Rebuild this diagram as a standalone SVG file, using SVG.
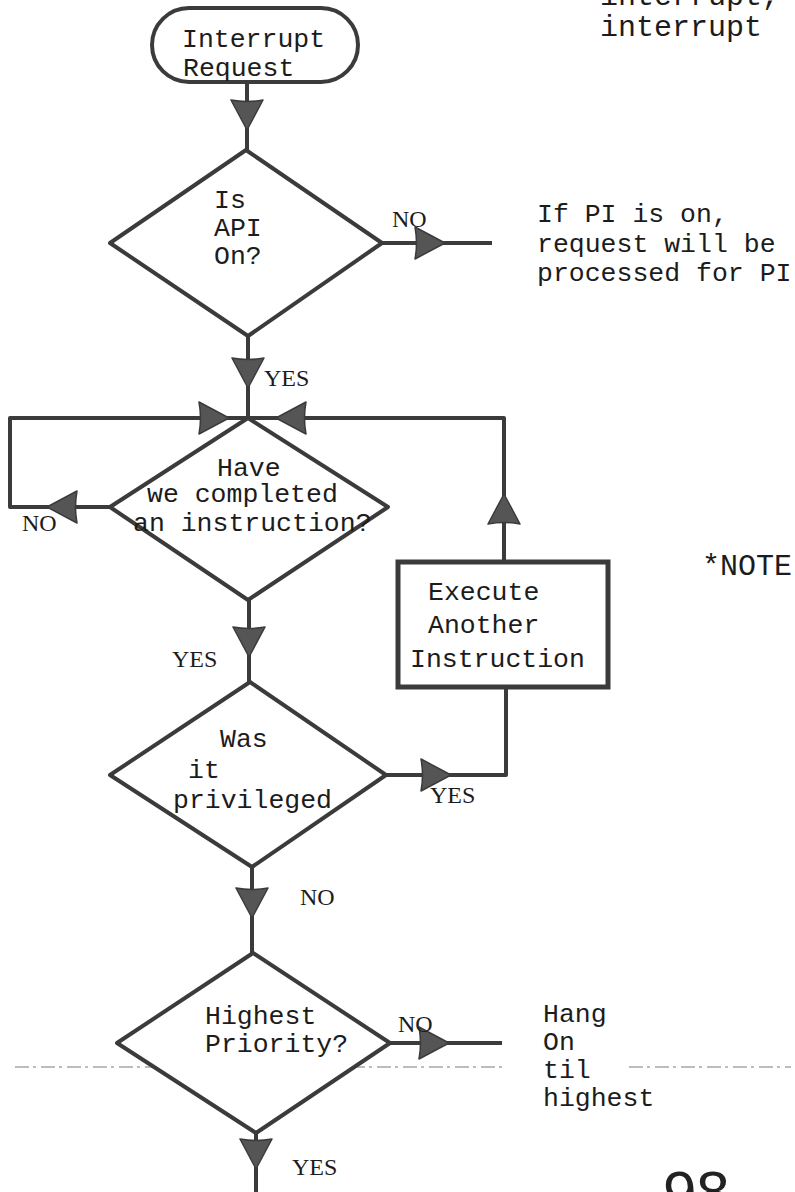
<svg xmlns="http://www.w3.org/2000/svg" width="795" height="1192" viewBox="0 0 795 1192">
  <style>
    .shape { fill: #ffffff; stroke: #3b3b3b; stroke-width: 4; stroke-linejoin: round; }
    .box { fill: #ffffff; stroke: #3b3b3b; stroke-width: 5; }
    .wire { fill: none; stroke: #3b3b3b; stroke-width: 4; stroke-linejoin: round; }
    .head { fill: #555555; stroke: #3b3b3b; stroke-width: 1.5; stroke-linejoin: round; }
    .t { font-family: "Liberation Mono", "Courier New", monospace; font-size: 26.5px; fill: #1c1c1c; }
    .lbl { font-family: "Liberation Serif", "Times New Roman", serif; font-size: 24px; fill: #1c1c1c; }
    .big { font-family: "Liberation Mono", "Courier New", monospace; font-size: 30px; fill: #1c1c1c; }
    .fold { fill: none; stroke: #a8a8a8; stroke-width: 1.5; stroke-dasharray: 14 4 3 5; }
  </style>
  <defs>
    <!-- arrowhead pointing down: base at y=0, tip at y=30 -->
    <path id="ah" class="head" d="M-16,0 Q0,3 16,0 L0,30 Z"/>
  </defs>

  <rect width="795" height="1192" fill="#ffffff"/>

  <!-- faint horizontal fold line across the page -->
  <g id="fold">
    <path class="fold" d="M15,1067 H233 M325,1067 H507 M629,1067 H791"/>
  </g>

  <!-- running text at top right (cut by the page edge) -->
  <g id="header-note">
    <text class="big" x="600" y="5">interrupt,</text>
    <text class="big" x="600" y="36">interrupt</text>
  </g>

  <!-- connectors -->
  <g id="connectors">
    <path class="wire" d="M247,82 V150"/>
    <path class="wire" d="M382,243 H492"/>
    <path class="wire" d="M248,336 V418"/>
    <path class="wire" d="M110,507 H10 V418 H248"/>
    <path class="wire" d="M504,562 V418 H248"/>
    <path class="wire" d="M249,600 V682"/>
    <path class="wire" d="M386,775 H506 V687"/>
    <path class="wire" d="M252,867 V953"/>
    <path class="wire" d="M390,1043 H502"/>
    <path class="wire" d="M256,1133 V1192"/>

    <use href="#ah" transform="translate(247,100)"/>
    <use href="#ah" transform="translate(415,243) rotate(-90)"/>
    <use href="#ah" transform="translate(248,358)"/>
    <use href="#ah" transform="translate(199,418) rotate(-90)"/>
    <use href="#ah" transform="translate(306,418) rotate(90)"/>
    <use href="#ah" transform="translate(77,507) rotate(90)"/>
    <use href="#ah" transform="translate(504,524) rotate(180)"/>
    <use href="#ah" transform="translate(249,627)"/>
    <use href="#ah" transform="translate(421,775) rotate(-90)"/>
    <use href="#ah" transform="translate(252,888)"/>
    <use href="#ah" transform="translate(419,1043) rotate(-90)"/>
    <use href="#ah" transform="translate(256,1139)"/>
  </g>

  <!-- edge labels -->
  <g id="edge-labels">
    <text class="lbl" x="392" y="227">NO</text>
    <text class="lbl" x="264" y="386">YES</text>
    <text class="lbl" x="22" y="531">NO</text>
    <text class="lbl" x="172" y="667">YES</text>
    <text class="lbl" x="430" y="803">YES</text>
    <text class="lbl" x="300" y="905">NO</text>
    <text class="lbl" x="398" y="1032">NO</text>
    <text class="lbl" x="292" y="1175">YES</text>
  </g>

  <g id="start">
    <rect class="shape" x="152" y="8" width="206" height="74" rx="37" ry="37"/>
    <text class="t" x="182" y="47">Interrupt</text>
    <text class="t" x="183" y="76">Request</text>
  </g>

  <g id="api-on">
    <polygon class="shape" points="246,150 382,243 248,336 110,243"/>
    <text class="t" x="214" y="208">Is</text>
    <text class="t" x="214" y="236">API</text>
    <text class="t" x="214" y="264">On?</text>
  </g>

  <g id="pi-note">
    <text class="t" x="537" y="222">If PI is on,</text>
    <text class="t" x="537" y="252">request will be</text>
    <text class="t" x="537" y="281">processed for PI</text>
  </g>

  <g id="completed">
    <polygon class="shape" points="248,418 388,507 248,600 110,507"/>
    <text class="t" x="217" y="476">Have</text>
    <text class="t" x="147" y="502">we completed</text>
    <text class="t" x="133" y="531">an instruction?</text>
  </g>

  <g id="execute">
    <rect class="box" x="398" y="562" width="210" height="125"/>
    <text class="t" x="428" y="600">Execute</text>
    <text class="t" x="428" y="633">Another</text>
    <text class="t" x="410" y="667">Instruction</text>
  </g>

  <g id="note">
    <text class="big" x="702" y="575">*NOTE</text>
  </g>

  <g id="privileged">
    <polygon class="shape" points="250,682 386,775 252,867 110,775"/>
    <text class="t" x="220" y="747">Was</text>
    <text class="t" x="188" y="778">it</text>
    <text class="t" x="173" y="808">privileged</text>
  </g>

  <g id="highest">
    <polygon class="shape" points="253,953 390,1043 256,1133 117,1043"/>
    <text class="t" x="205" y="1024">Highest</text>
    <text class="t" x="205" y="1052">Priority?</text>
  </g>

  <g id="hang-note">
    <text class="t" x="543" y="1022">Hang</text>
    <text class="t" x="543" y="1050">On</text>
    <text class="t" x="543" y="1078">til</text>
    <text class="t" x="543" y="1106">highest</text>
  </g>

  <g id="page-number">
    <text x="663" y="1213" font-family="Liberation Sans, Arial, sans-serif" font-size="60" fill="#222222">98</text>
  </g>
</svg>
